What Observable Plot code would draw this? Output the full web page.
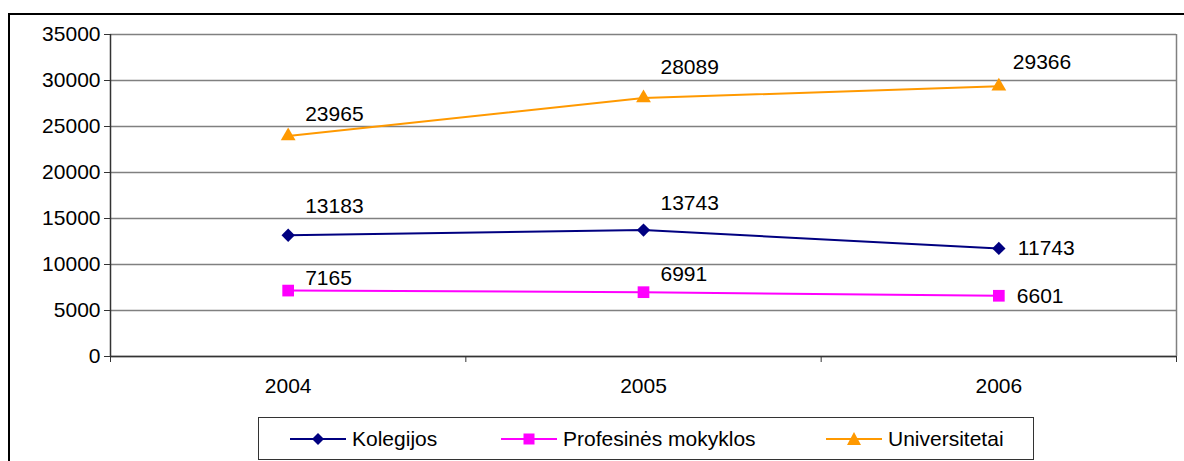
<!DOCTYPE html>
<html>
<head>
<meta charset="utf-8">
<script src="https://cdn.jsdelivr.net/npm/d3@7"></script>
<script src="https://cdn.jsdelivr.net/npm/@observablehq/plot@0.6"></script>
<style>
  body { margin: 0; background: #fff; }
  #wrap { position: relative; width: 1184px; height: 461px; overflow: hidden; font-family: "Liberation Sans", Arial, sans-serif; }
  #frame { position: absolute; left: 8px; top: 13px; width: 1300px; height: 600px; border: 2px solid #000; }
  #chart { position: absolute; left: 0; top: 0; }
  #legend { position: absolute; left: 258px; top: 417px; width: 774px; height: 41px; border: 1px solid #333; background: #fff; }
  .item { position: absolute; top: 0; height: 41px; display: flex; align-items: center; font-size: 21px; color: #000; }
  .item svg { margin-right: 6px; }
</style>
</head>
<body>
<div id="wrap">
  <div id="frame"></div>
  <div id="chart"></div>
  <div id="legend"></div>
</div>
<script>
// Data
const years = [2004, 2005, 2006];
const seriesNames = ["Kolegijos", "Profesinės mokyklos", "Universitetai"];
const kolegijos = [13183, 13743, 11743];
const profesines = [7165, 6991, 6601];
const universitetai = [23965, 28089, 29366];
const yTicks = [0, 5000, 10000, 15000, 20000, 25000, 30000, 35000];

const colors = {"Kolegijos": "#000080", "Profesinės mokyklos": "#FF00FF", "Universitetai": "#FF9900"};
const symbols = {"Kolegijos": "diamond2", "Profesinės mokyklos": "square", "Universitetai": "triangle"};
const radii = {"Kolegijos": 6, "Profesinės mokyklos": 6.6, "Universitetai": 5.5};

const valuesBySeries = [kolegijos, profesines, universitetai];
const rows = [];
seriesNames.forEach((s, i) => years.forEach((y, j) => rows.push({series: s, year: y, value: valuesBySeries[i][j]})));

// label placement (layout, px offsets from point)
const labelOffsets = {
  "Kolegijos-2004": [17, -29], "Kolegijos-2005": [17, -27], "Kolegijos-2006": [19, 0],
  "Profesinės mokyklos-2004": [17, -12], "Profesinės mokyklos-2005": [17, -18], "Profesinės mokyklos-2006": [18, 0],
  "Universitetai-2004": [17, -22], "Universitetai-2005": [17, -31], "Universitetai-2006": [14, -24]
};

const font = "Liberation Sans, Arial, sans-serif";
const marks = [
  Plot.gridY(yTicks, {stroke: "#808080", strokeOpacity: 1, strokeWidth: 1.5}),
  Plot.ruleX([2006.5], {stroke: "#808080", strokeWidth: 1.5}),
  Plot.ruleX([2003.5], {stroke: "#333", strokeWidth: 1.5}),
  Plot.ruleY([0], {stroke: "#333", strokeWidth: 1.5}),
  Plot.axisY({ticks: yTicks, tickSize: 6, tickPadding: 4, tickFormat: d3.format("d"), fontSize: 21, color: "#000", stroke: "#333", label: null}),
  Plot.axisX({ticks: [2003.5, 2004.5, 2005.5, 2006.5], tickSize: 6, tickFormat: () => "", stroke: "#333", label: null}),
  Plot.axisX({ticks: years, tickSize: 0, tickPadding: 22, tickFormat: d3.format("d"), fontSize: 21, color: "#000", label: null}),
];
seriesNames.forEach(s => {
  const d = rows.filter(r => r.series === s);
  marks.push(Plot.line(d, {x: "year", y: "value", stroke: colors[s], strokeWidth: 2}));
  marks.push(Plot.dot(d, {x: "year", y: "value", symbol: () => symbols[s], fill: colors[s], stroke: "none", r: radii[s]}));
});
rows.forEach(r => {
  const [dx, dy] = labelOffsets[r.series + "-" + r.year];
  marks.push(Plot.text([r], {x: "year", y: "value", text: d => String(d.value), dx, dy, textAnchor: "start", fontSize: 21, fill: "#000"}));
});

const chart = Plot.plot({
  width: 1184,
  height: 461,
  marginLeft: 110,
  marginRight: 8,
  marginTop: 34,
  marginBottom: 105,
  style: {fontFamily: font, background: "transparent", overflow: "visible"},
  x: {domain: [2003.5, 2006.5], axis: null},
  y: {domain: [0, 35000], axis: null},
  symbol: {type: "identity"},
  marks
});
document.getElementById("chart").appendChild(chart);

// Legend
const legend = document.getElementById("legend");
const itemLeft = [31, 242, 567];
function markerSvg(s) {
  const c = colors[s];
  let shape = "";
  if (s === "Kolegijos") shape = `<path d="M28,15 L34,21 L28,27 L22,21 Z" fill="${c}"/>`;
  else if (s === "Profesinės mokyklos") shape = `<rect x="22.5" y="15.5" width="11" height="11" fill="${c}"/>`;
  else shape = `<path d="M28,14 L35,27 L21,27 Z" fill="${c}"/>`;
  return `<svg width="56" height="41" viewBox="0 0 56 41"><line x1="0" y1="21" x2="56" y2="21" stroke="${c}" stroke-width="2"/>${shape}</svg>`;
}
seriesNames.forEach((s, i) => {
  const div = document.createElement("div");
  div.className = "item";
  div.style.left = itemLeft[i] + "px";
  div.innerHTML = markerSvg(s) + `<span>${s}</span>`;
  legend.appendChild(div);
});
</script>
</body>
</html>
